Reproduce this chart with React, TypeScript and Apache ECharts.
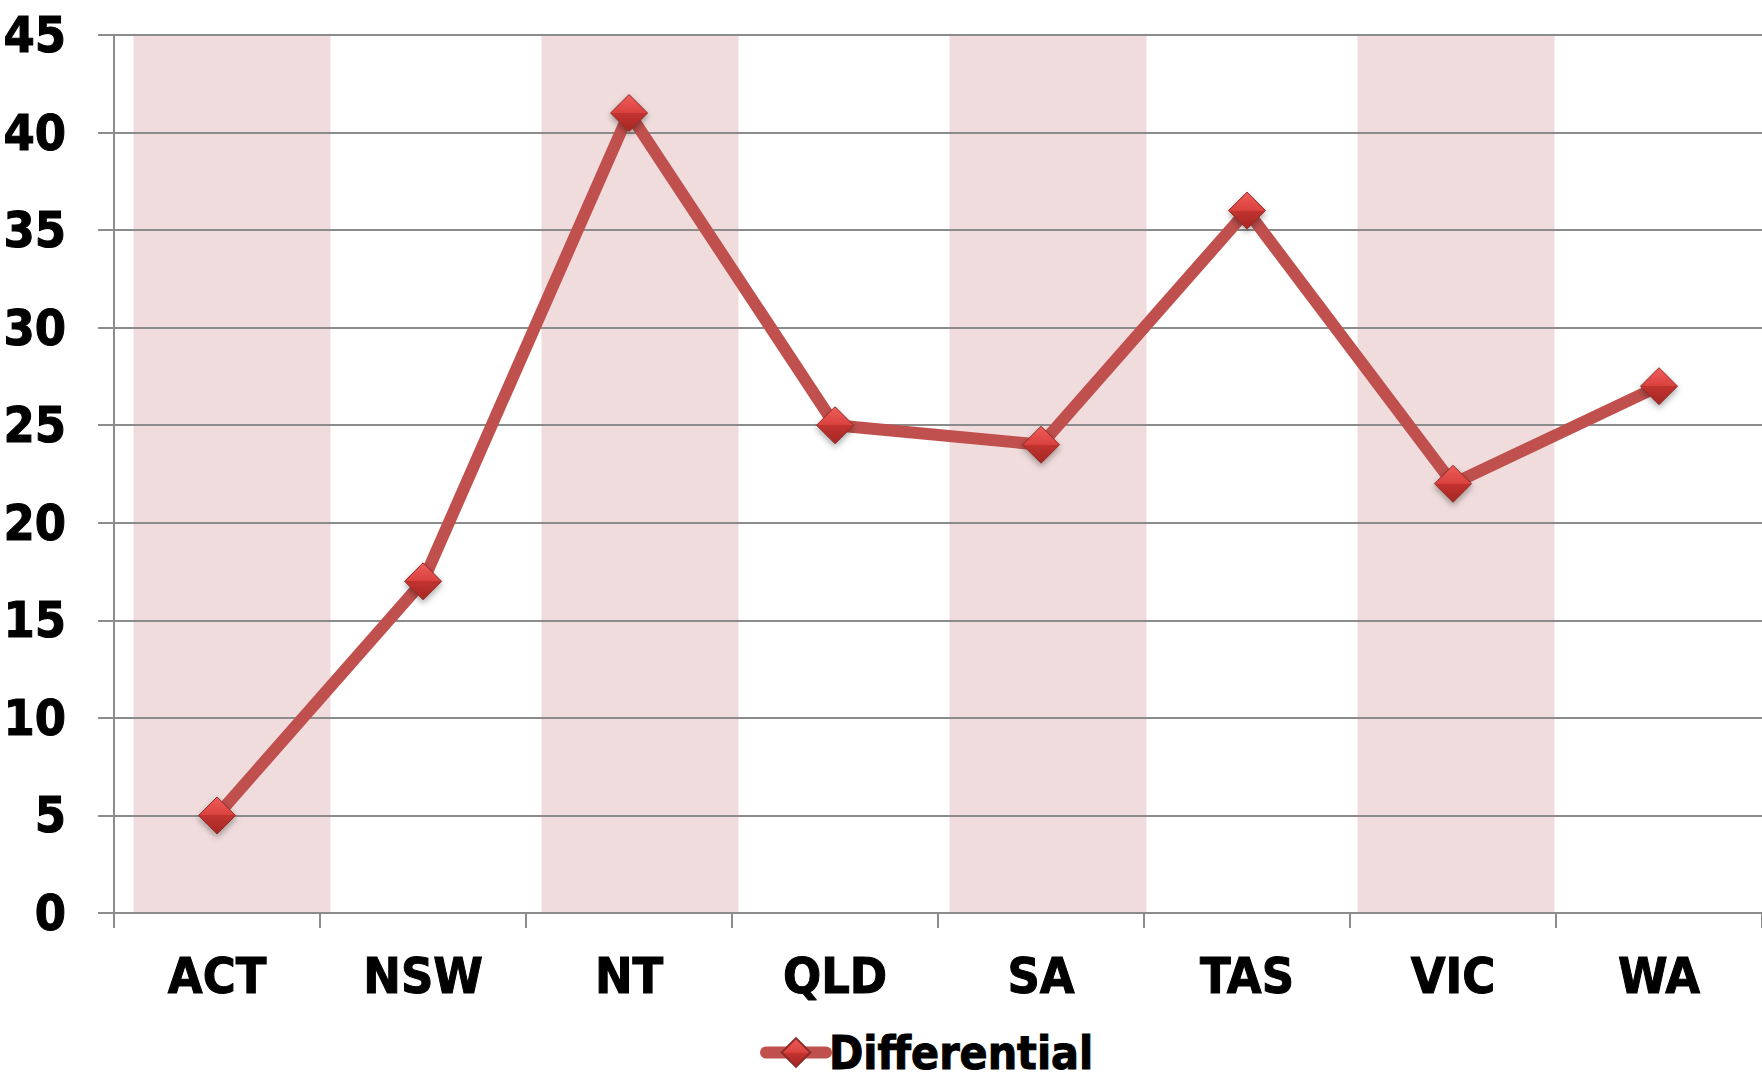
import React, { useEffect, useRef } from "react";
import * as echarts from "echarts";

const categories = ["ACT", "NSW", "NT", "QLD", "SA", "TAS", "VIC", "WA"];
const differential = [5, 17, 41, 25, 24, 36, 22, 27];
const shadeBands: (number | string)[] = [45, "-", 45, "-", 45, "-", 45, "-"];
const yTicks = { min: 0, max: 45, interval: 5 };

const FONT =
  "'Noto Sans ExtraCondensed', 'Noto Sans Condensed', 'Liberation Sans Narrow', 'DejaVu Sans Condensed', sans-serif";

export default function App() {
  const ref = useRef<HTMLDivElement>(null);
  useEffect(() => {
    if (!ref.current) return;
    const chart = echarts.init(ref.current, null, { renderer: "svg" });
    const labelStyle = {
      color: "#000",
      fontFamily: FONT,
      fontWeight: 900 as const,
      fontSize: 50,
      textBorderColor: "#000",
      textBorderWidth: 1,
    };
    chart.setOption({
      animation: false,
      backgroundColor: "#fff",
      grid: [
        { left: 110, top: 35, width: 1658, height: 878 },
        { left: 130, top: 35, width: 1635, height: 878 },
      ],
      xAxis: [
        {
          type: "category",
          gridIndex: 0,
          data: categories,
          boundaryGap: true,
          axisLine: { lineStyle: { color: "#8c8c8c", width: 2 } },
          axisTick: { show: true, length: 15, lineStyle: { color: "#8c8c8c", width: 2 } },
          axisLabel: { ...labelStyle, margin: 38 },
        },
        {
          type: "category",
          gridIndex: 1,
          data: categories,
          show: false,
        },
      ],
      yAxis: [
        {
          type: "value",
          gridIndex: 0,
          min: yTicks.min,
          max: yTicks.max,
          interval: yTicks.interval,
          axisLine: { show: true, lineStyle: { color: "#8c8c8c", width: 2 } },
          axisTick: { show: true, length: 16, lineStyle: { color: "#8c8c8c", width: 2 } },
          splitLine: { show: true, lineStyle: { color: "#8c8c8c", width: 2 } },
          axisLabel: { ...labelStyle, margin: 48 },
        },
        {
          type: "value",
          gridIndex: 1,
          min: yTicks.min,
          max: yTicks.max,
          show: false,
          splitLine: { show: false },
        },
      ],
      legend: {
        data: ["Differential"],
        left: 755,
        top: 1024,
        itemWidth: 60,
        itemHeight: 36,
        itemGap: 4,
        lineStyle: { width: 12, cap: "round" },
        textStyle: { ...labelStyle, fontSize: 46, lineHeight: 46, padding: [0, 0, 0, -2] },
      },
      series: [
        {
          name: "Bands",
          type: "bar",
          xAxisIndex: 1,
          yAxisIndex: 1,
          data: shadeBands,
          barWidth: 197,
          z: -1,
          silent: true,
          itemStyle: { color: "#f0dcdc" },
        },
        {
          name: "Differential",
          type: "line",
          xAxisIndex: 0,
          yAxisIndex: 0,
          data: differential,
          z: 5,
          symbol: "diamond",
          symbolSize: 37,
          lineStyle: { color: "#c0504d", width: 12, cap: "round", join: "round" },
          itemStyle: {
            color: {
              type: "linear",
              x: 0,
              y: 0,
              x2: 0,
              y2: 1,
              colorStops: [
                { offset: 0, color: "#f05d5a" },
                { offset: 0.5, color: "#d9413e" },
                { offset: 0.5, color: "#c2322f" },
                { offset: 1, color: "#a52825" },
              ],
            },
            borderColor: "#8e2b28",
            borderWidth: 1,
            shadowBlur: 6,
            shadowColor: "rgba(0,0,0,0.35)",
            shadowOffsetY: 3,
          },
        },
      ],
    });
    return () => chart.dispose();
  }, []);
  return (
    <div
      ref={ref}
      style={{ position: "absolute", left: 0, top: 0, width: 1762, height: 1078 }}
    />
  );
}
